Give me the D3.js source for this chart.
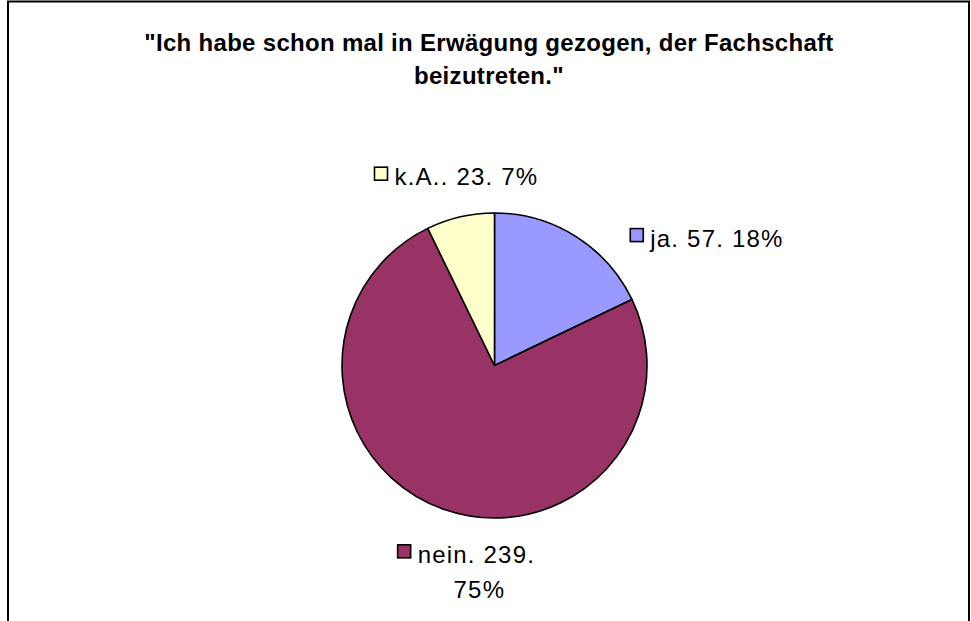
<!DOCTYPE html>
<html>
<head>
<meta charset="utf-8">
<script src="https://cdn.jsdelivr.net/npm/d3@7"></script>
<style>
  html, body { margin: 0; padding: 0; background: #fff; }
  svg { display: block; }
</style>
</head>
<body>
<svg id="chart" width="971" height="621"></svg>
<script>
// ---- data ----
const categories = ["ja", "nein", "k.A."];
const counts = [57, 239, 23];
const percentLabels = ["18%", "75%", "7%"];
const colors = ["#9999FF", "#993366", "#FFFFCC"];
const titleLines = ["\"Ich habe schon mal in Erwägung gezogen, der Fachschaft", "beizutreten.\""];

// ---- layout ----
const W = 971, H = 621;
const cx = 494.5, cy = 365.5, R = 152.5;
const labelRadius = 183;
// offsets of label centers from the outer-arc centroid (layout only)
const labelOffsets = [[115, 28], [32, 34], [3, -10]];
const labelFont = "'Liberation Sans', Arial, sans-serif";

const svg = d3.select("#chart");

// chart area border (bottom extends past the picture)
svg.append("rect")
  .attr("x", 8).attr("y", 1.5)
  .attr("width", 961).attr("height", 700)
  .attr("fill", "#fff").attr("stroke", "#000").attr("stroke-width", 2);

// title
svg.append("text")
  .attr("text-anchor", "middle")
  .attr("font-family", labelFont)
  .attr("font-weight", "bold")
  .attr("font-size", 24)
  .attr("letter-spacing", 0.3)
  .selectAll("tspan").data(titleLines).join("tspan")
  .attr("x", 489).attr("y", (d, i) => 51 + i * 33)
  .text(d => d);

const pie = d3.pie().sort(null).value(d => d)
  .startAngle(0).endAngle(2 * Math.PI);
const arcs = pie(counts);
const arc = d3.arc().innerRadius(0).outerRadius(R);
const outerArc = d3.arc().innerRadius(labelRadius).outerRadius(labelRadius);

const g = svg.append("g").attr("transform", `translate(${cx},${cy})`);
g.selectAll("path").data(arcs).join("path")
  .attr("d", arc)
  .attr("fill", (d, i) => colors[i])
  .attr("stroke", "#000")
  .attr("stroke-width", 1.6)
  .attr("stroke-linejoin", "round");

// data labels
const fs = 24, keySize = 13, gap = 7;
arcs.forEach((d, i) => {
  const c = outerArc.centroid(d);
  const lx = c[0] + labelOffsets[i][0];
  const ly = c[1] + labelOffsets[i][1];
  const lg = g.append("g");
  const twoLine = i === 1;
  const line1 = twoLine
    ? `${categories[i]}. ${counts[i]}.`
    : `${categories[i]}. ${counts[i]}. ${percentLabels[i]}`;
  const t1 = lg.append("text")
    .attr("font-family", labelFont).attr("font-size", fs)
    .attr("letter-spacing", 1.2)
    .attr("fill", "#000")
    .text(line1);
  const w1 = t1.node().getComputedTextLength();
  const total = keySize + gap + w1;
  const x0 = lx - total / 2;
  const lineH = 35;
  const base1 = twoLine ? ly - lineH / 2 + 8 : ly + 8;
  t1.attr("x", x0 + keySize + gap).attr("y", base1);
  lg.append("rect")
    .attr("x", x0).attr("y", base1 - 5 - keySize)
    .attr("width", keySize).attr("height", keySize)
    .attr("fill", colors[i]).attr("stroke", "#000").attr("stroke-width", 1.6);
  if (twoLine) {
    lg.append("text")
      .attr("font-family", labelFont).attr("font-size", fs)
      .attr("letter-spacing", 1.2)
      .attr("text-anchor", "middle")
      .attr("x", lx + 13).attr("y", base1 + lineH)
      .text(percentLabels[i]);
  }
});
</script>
</body>
</html>
